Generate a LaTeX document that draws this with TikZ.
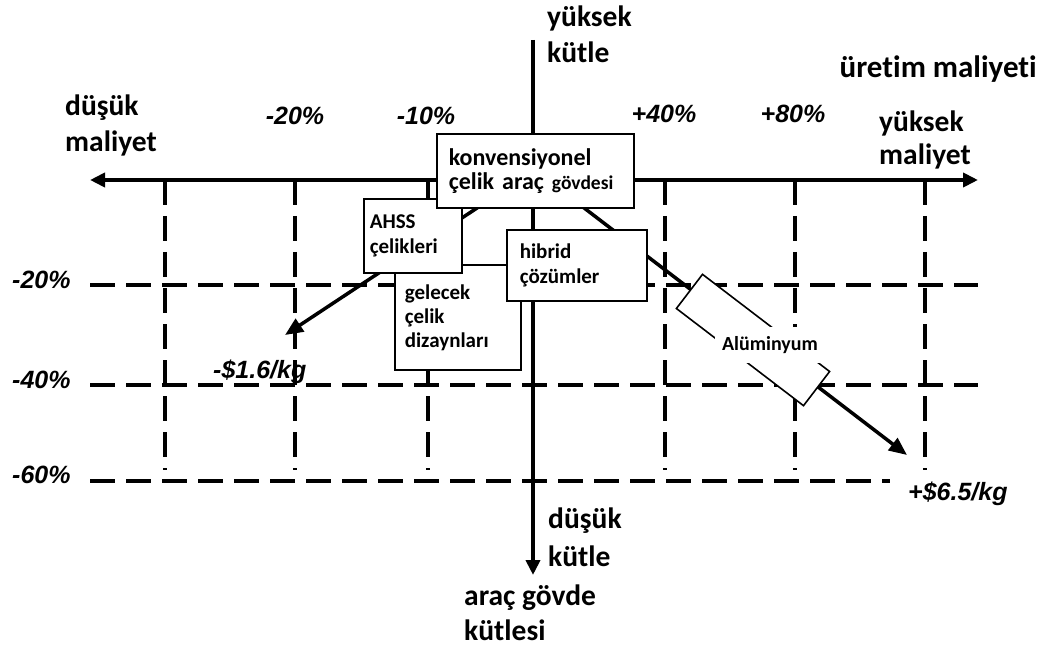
\documentclass[tikz,border=0pt]{standalone}
\usepackage{fontspec}
\setmainfont[Ligatures=NoCommon]{Carlito}
\newfontfamily\arialfont{Liberation Sans}
\usetikzlibrary{arrows.meta,positioning}

\tikzset{
  axisline/.style={line width=4.5pt},
  gridline/.style={line width=3.5pt,dash pattern=on 25pt off 11pt},
  trendarrow/.style={line width=3.5pt,-{Triangle[length=18pt,width=15pt]}},
  boxlabel/.style={draw,fill=white,line width=1.6pt,anchor=north west,align=left,
    inner ysep=0pt,font=\fontsize{21}{25}\selectfont\bfseries},
  axislabel/.style={anchor=base west,align=left,inner sep=0pt,
    font=\fontsize{29.5}{36}\selectfont\bfseries},
  pctlabel/.style={anchor=base,inner sep=0pt,
    font=\arialfont\fontsize{25}{28}\selectfont\bfseries\itshape},
}

\begin{document}
\begin{tikzpicture}[x=1pt,y=-1pt]
  \useasboundingbox (0,0) rectangle (1047,647);

  %% grid
  \foreach \gx in {165,295,428,665,795,925}
    \draw[gridline] (\gx,180) -- (\gx,470);
  \foreach \gy in {285,385}
    \draw[gridline] (90,\gy) -- (978,\gy);
  \draw[gridline] (90,481) -- (890,481);

  %% axes
  \coordinate (xleft) at (90,180);
  \coordinate (xright) at (978,180);
  \coordinate (ytop) at (533,40);
  \coordinate (ybottom) at (533,575);
  \draw[axisline,{Triangle[length=15pt,width=14pt]}-{Triangle[length=15pt,width=14pt]}] (xleft) -- (xright);
  \draw[axisline,-{Triangle[length=15pt,width=14pt]}] (ytop) -- (ybottom);

  %% axis labels (base = last line)
  \node[axislabel] (lowcost) at (65,152) {düşük\\maliyet};
  \node[axislabel,font=\fontsize{29.5}{33}\selectfont\bfseries] (highcost) at (879,165) {yüksek\\maliyet};
  \node[axislabel,anchor=base east,font=\fontsize{31}{36}\selectfont\bfseries] (prodcost) at (1037,78) {üretim maliyeti};
  \node[axislabel] (highmass) at (547,63) {yüksek\\kütle};
  \node[axislabel,font=\fontsize{29.5}{38}\selectfont\bfseries] (lowmass) at (548,566) {düşük\\kütle};
  \node[axislabel,font=\fontsize{29.5}{35}\selectfont\bfseries] (massname) at (464,640) {araç gövde\\kütlesi};

  %% percent labels
  \node[pctlabel] (px1) at (295,125) {-20\%};
  \node[pctlabel] (px2) at (426,125) {-10\%};
  \node[pctlabel] (px3) at (664,123) {+40\%};
  \node[pctlabel] (px4) at (793,123) {+80\%};
  \node[pctlabel,anchor=base west] (py1) at (12,288) {-20\%};
  \node[pctlabel,anchor=base west] (py2) at (12,388) {-40\%};
  \node[pctlabel,anchor=base west] (py3) at (12,483) {-60\%};

  %% trend arrows
  \coordinate (lefttip) at (285,335);
  \coordinate (righttip) at (907,455);
  \draw[trendarrow] (534.5,170) -- (lefttip);
  \draw[trendarrow] (534.5,170) -- (righttip);
  \node[pctlabel,anchor=base west] (lowprice) at (213,378) {-\$1.6/kg};
  \node[pctlabel,anchor=base west] (highprice) at (908,500) {+\$6.5/kg};

  %% boxes
  \node[boxlabel,inner xsep=10pt,text width=106pt,minimum height=105pt,
        font=\fontsize{21}{24}\selectfont\bfseries] (gelecek) at (394,264)
        {gelecek\\çelik\\dizaynları};
  \node[boxlabel,inner xsep=13pt,text width=114pt,minimum height=71pt] (hibrid) at (506,229)
        {hibrid\\çözümler};
  \node[boxlabel,inner xsep=6pt,text width=86pt,minimum height=74pt] (ahss) at (363,198)
        {AHSS\\çelikleri};
  \node[boxlabel,inner xsep=12pt,text width=173pt,minimum height=74pt,
        font=\fontsize{24}{24}\selectfont\bfseries] (kgovde) at (436,133)
        {konvensiyonel\\çelik araç {\fontsize{19.5}{24}\selectfont gövdesi}};
  \node[draw,fill=white,line width=1.6pt,rotate=-37.4,minimum width=160pt,
        minimum height=43pt] (alubox) at (753,340) {};
  \node[fill=white,inner xsep=7pt,inner ysep=9pt,
        font=\fontsize{20}{24}\selectfont\bfseries] (alu) at (770,345) {Alüminyum};
\end{tikzpicture}
\end{document}
